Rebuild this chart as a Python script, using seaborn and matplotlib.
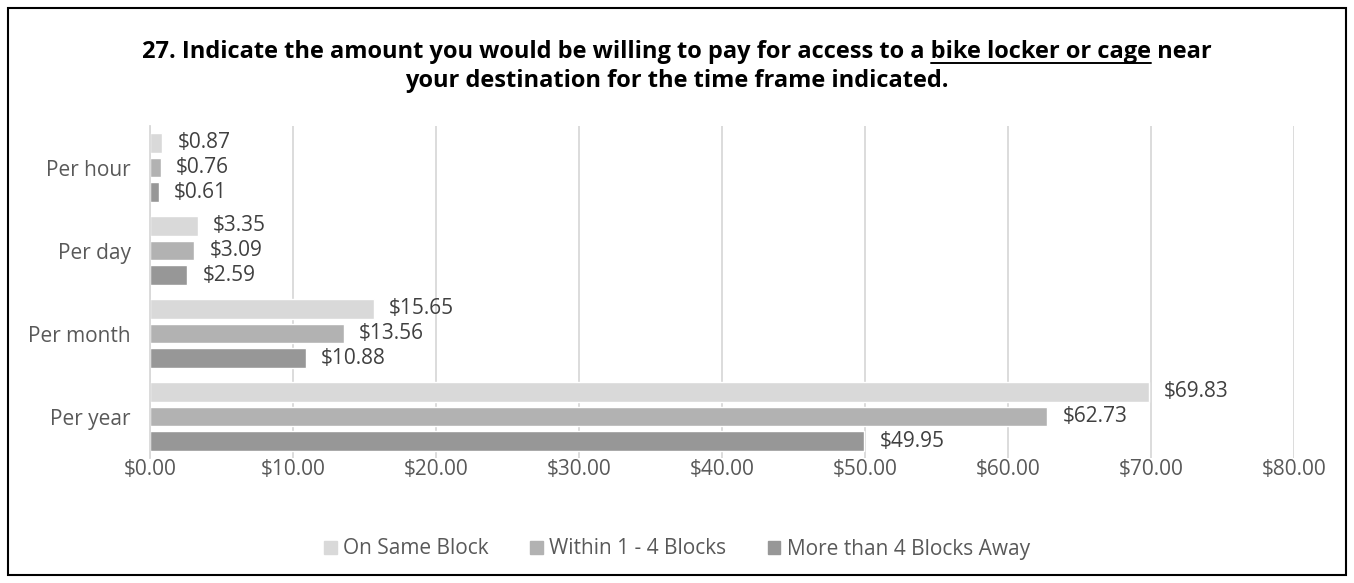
import pandas as pd
import seaborn as sns
import matplotlib.pyplot as plt
from matplotlib.patches import Rectangle
from matplotlib.lines import Line2D

# Chart values
periods = ["Per hour", "Per day", "Per month", "Per year"]
same_block = [0.87, 3.35, 15.65, 69.83]
within_1_4 = [0.76, 3.09, 13.56, 62.73]
more_than_4 = [0.61, 2.59, 10.88, 49.95]
groups = ["On Same Block", "Within 1 - 4 Blocks", "More than 4 Blocks Away"]
colors = ["#d9d9d9", "#b2b2b2", "#979797"]
x_ticks = [0, 10, 20, 30, 40, 50, 60, 70, 80]

# Long-form table for seaborn
rows = []
for name, vals in zip(groups, [same_block, within_1_4, more_than_4]):
    for p, v in zip(periods, vals):
        rows.append({"Period": p, "Group": name, "Value": v})
df = pd.DataFrame(rows)

sns.set_style("white")
plt.rcParams["font.family"] = ["Open Sans", "DejaVu Sans"]

fig = plt.figure(figsize=(13.54, 5.83), dpi=100)
ax = fig.add_axes([150 / 1354, 1 - 458 / 583, (1294 - 150) / 1354, (458 - 126) / 583])

sns.barplot(data=df, y="Period", x="Value", hue="Group", order=periods,
            hue_order=groups, palette=colors, orient="h", width=0.9, gap=0.2,
            saturation=1, ax=ax, legend=False)

# Data labels
for cont in ax.containers:
    ax.bar_label(cont, labels=[f"${v:.2f}" for v in cont.datavalues],
                 padding=11, fontsize=15, color="#404040")

ax.set_xlim(0, 80)
ax.set_xticks(x_ticks)
ax.set_xticklabels([f"${t:.2f}" for t in x_ticks], fontsize=15, color="#595959")
ax.tick_params(axis="y", labelsize=15, labelcolor="#595959", length=0, pad=14)
ax.tick_params(axis="x", length=0, pad=1)
ax.set_xlabel("")
ax.set_ylabel("")
ax.grid(axis="x", color="#d9d9d9", linewidth=1.3)
ax.set_axisbelow(True)
for s in ["top", "right", "bottom"]:
    ax.spines[s].set_visible(False)
ax.spines["left"].set_color("#d9d9d9")
ax.spines["left"].set_linewidth(1.3)

# Legend
handles = [Rectangle((0, 0), 1, 1, color=c) for c in colors]
fig.legend(handles, groups, loc="center", bbox_to_anchor=(0.5, 1 - 549 / 583),
           ncol=3, frameon=False, fontsize=15, handlelength=0.6, handleheight=0.6,
           handletextpad=0.3, columnspacing=2.0, labelcolor="#595959")

# Title with underlined part
prefix = "27. Indicate the amount you would be willing to pay for access to a "
under = "bike locker or cage"
line1 = prefix + under + " near"
tsize = 17
tkw = dict(fontsize=tsize, fontweight="bold", color="black", ha="center", va="center")
t1 = fig.text(0.5, 1 - 52 / 583, line1, **tkw)
fig.text(0.5, 1 - 81 / 583, "your destination for the time frame indicated.", **tkw)

fig.canvas.draw()
r = fig.canvas.get_renderer()
bb = t1.get_window_extent(r)
def width_of(s):
    tmp = fig.text(0, 0, s, fontsize=tsize, fontweight="bold")
    w = tmp.get_window_extent(r).width
    tmp.remove()
    return w
w_pu = width_of(prefix + under)
w_u = width_of(under)
x_start = bb.x0 + w_pu - w_u
x_end = bb.x0 + w_pu
y_line = bb.y0 + 1
W, H = fig.bbox.width, fig.bbox.height
fig.add_artist(Line2D([x_start / W, x_end / W], [y_line / H, y_line / H],
                      color="black", linewidth=1.4, transform=fig.transFigure))

# Outer border
fig.add_artist(Rectangle((8 / 1354, 8 / 583), 1338 / 1354, 567 / 583,
                         fill=False, edgecolor="black", linewidth=1.5,
                         transform=fig.transFigure))

fig.savefig("out.png", dpi=100)
